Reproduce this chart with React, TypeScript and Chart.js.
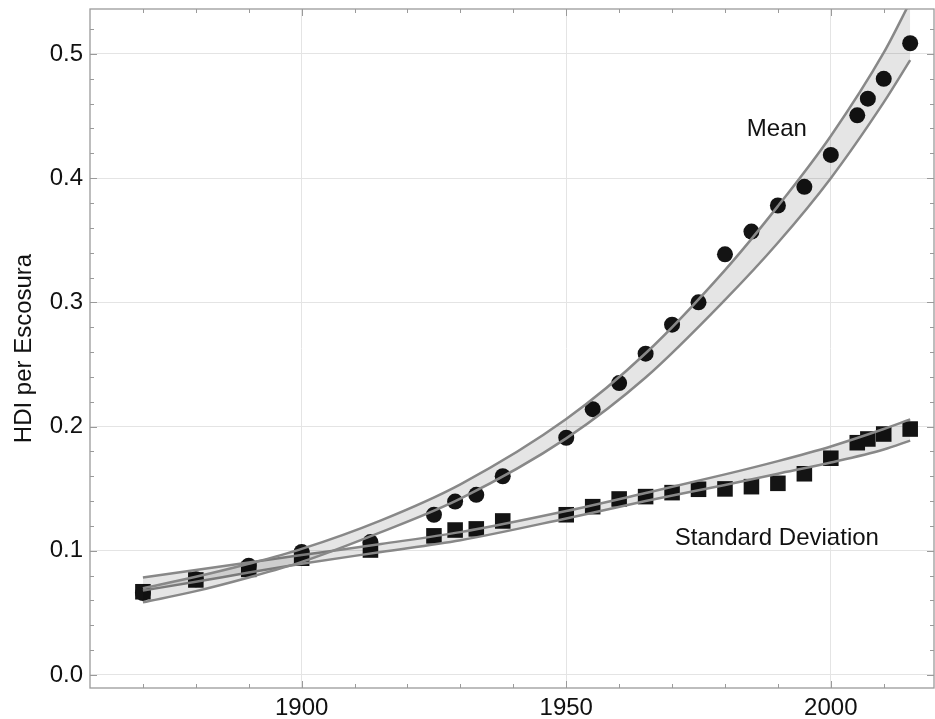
import React, { useEffect, useRef } from 'react';
import { Chart, registerables } from 'chart.js';

Chart.register(...registerables);

// ---- data ----
const years = [1870, 1880, 1890, 1900, 1913, 1925, 1929, 1933, 1938, 1950, 1955, 1960, 1965, 1970, 1975, 1980, 1985, 1990, 1995, 2000, 2005, 2007, 2010, 2015];
const meanValues = [0.066, 0.077, 0.088, 0.099, 0.107, 0.129, 0.1396, 0.145, 0.160, 0.191, 0.214, 0.235, 0.2587, 0.282, 0.300, 0.3387, 0.357, 0.378, 0.393, 0.4187, 0.4506, 0.464, 0.480, 0.5086];
const sdValues = [0.067, 0.0765, 0.085, 0.094, 0.1006, 0.112, 0.1167, 0.1176, 0.124, 0.129, 0.1355, 0.1417, 0.1436, 0.1468, 0.1495, 0.1498, 0.1516, 0.1543, 0.162, 0.1745, 0.187, 0.190, 0.194, 0.198];

const bandYears = [1870, 1880, 1890, 1900, 1915, 1930, 1950, 1965, 1980, 1990, 2000, 2010, 2015];
const meanUpper = [0.0698, 0.0790, 0.0895, 0.1015, 0.1245, 0.1535, 0.2060, 0.2590, 0.3260, 0.3775, 0.4340, 0.5010, 0.5420];
const meanLower = [0.0585, 0.0675, 0.0785, 0.0910, 0.1150, 0.1420, 0.1905, 0.2395, 0.3020, 0.3480, 0.4000, 0.4610, 0.4950];
const sdUpper = [0.0785, 0.0845, 0.0905, 0.0965, 0.1055, 0.1150, 0.1320, 0.1465, 0.1615, 0.1722, 0.1840, 0.1980, 0.2058];
const sdLower = [0.0680, 0.0750, 0.0825, 0.0895, 0.0990, 0.1085, 0.1260, 0.1400, 0.1530, 0.1620, 0.1710, 0.1815, 0.1887];

const xMajorTicks = [1900, 1950, 2000];
const xMinorTicks = [1870, 1880, 1890, 1910, 1920, 1930, 1940, 1960, 1970, 1980, 1990, 2010];
const yMajorTicks = [0, 0.1, 0.2, 0.3, 0.4, 0.5];
const yMinorTicks = [0.02, 0.04, 0.06, 0.08, 0.12, 0.14, 0.16, 0.18, 0.22, 0.24, 0.26, 0.28, 0.32, 0.34, 0.36, 0.38, 0.42, 0.44, 0.46, 0.48, 0.52];

const labelTexts = ['Mean', 'Standard Deviation'];
const labelYears = [1989.8, 1989.8];
const labelValues = [0.4396, 0.1103];

const yTitle = 'HDI per Escosura';

// ---- styles ----
const FONT = '"Liberation Sans", Arial, Helvetica, sans-serif';
const FRAME = '#9a9a9a';
const BAND_LINE = '#888888';
const BAND_FILL = 'rgba(0,0,0,0.10)';
const MARK = '#141414';

const pts = (xs: number[], ys: number[]) => xs.map((x, i) => ({ x, y: ys[i] }));

const framePlugin = {
  id: 'frameTicks',
  afterDraw(chart: any) {
    const { ctx, chartArea: a, scales } = chart;
    const xs = scales.x;
    const ys = scales.y;
    ctx.save();
    ctx.strokeStyle = FRAME;
    ctx.lineWidth = 1.3;
    ctx.strokeRect(a.left, a.top, a.right - a.left, a.bottom - a.top);
    ctx.lineWidth = 1;
    const tickX = (v: number, len: number) => {
      const px = Math.round(xs.getPixelForValue(v)) + 0.5;
      ctx.beginPath();
      ctx.moveTo(px, a.bottom); ctx.lineTo(px, a.bottom - len);
      ctx.moveTo(px, a.top); ctx.lineTo(px, a.top + len);
      ctx.stroke();
    };
    const tickY = (v: number, len: number) => {
      const py = Math.round(ys.getPixelForValue(v)) + 0.5;
      ctx.beginPath();
      ctx.moveTo(a.left, py); ctx.lineTo(a.left + len, py);
      ctx.moveTo(a.right, py); ctx.lineTo(a.right - len, py);
      ctx.stroke();
    };
    xMajorTicks.forEach((v) => tickX(v, 7));
    xMinorTicks.forEach((v) => tickX(v, 4));
    yMajorTicks.forEach((v) => tickY(v, 7));
    yMinorTicks.forEach((v) => tickY(v, 4));

    ctx.fillStyle = '#111';
    ctx.font = `24px ${FONT}`;
    ctx.textAlign = 'center';
    ctx.textBaseline = 'middle';
    labelTexts.forEach((t, i) => {
      ctx.fillText(t, xs.getPixelForValue(labelYears[i]), ys.getPixelForValue(labelValues[i]));
    });
    ctx.restore();
  },
};

const zeroPad = (s: any) => {
  s.paddingLeft = 0;
  s.paddingRight = 0;
  s.paddingTop = 0;
  s.paddingBottom = 0;
};

export default function App() {
  const ref = useRef<HTMLCanvasElement | null>(null);

  useEffect(() => {
    if (!ref.current) return;
    const bandLine = {
      type: 'line' as const,
      borderColor: BAND_LINE,
      borderWidth: 2.5,
      pointRadius: 0,
      cubicInterpolationMode: 'monotone' as const,
      order: 0,
    };
    const chart = new Chart(ref.current, {
      type: 'line',
      data: {
        datasets: [
          { ...bandLine, label: 'Mean upper', data: pts(bandYears, meanUpper), fill: false },
          { ...bandLine, label: 'Mean lower', data: pts(bandYears, meanLower), fill: 0, backgroundColor: BAND_FILL },
          { ...bandLine, label: 'SD upper', data: pts(bandYears, sdUpper), fill: false },
          { ...bandLine, label: 'SD lower', data: pts(bandYears, sdLower), fill: 2, backgroundColor: BAND_FILL },
          {
            label: 'Mean', data: pts(years, meanValues), showLine: false,
            pointStyle: 'circle', pointRadius: 8, pointBackgroundColor: MARK, pointBorderWidth: 0,
            borderColor: MARK, order: 3,
          },
          {
            label: 'Standard Deviation', data: pts(years, sdValues), showLine: false,
            pointStyle: 'rect', pointRadius: 11, pointBackgroundColor: MARK, pointBorderWidth: 0,
            borderColor: MARK, order: 2,
          },
        ],
      },
      options: {
        animation: false,
        responsive: true,
        maintainAspectRatio: false,
        layout: { autoPadding: false, padding: { top: 9, right: 1, left: 0, bottom: 0 } },
        plugins: { legend: { display: false }, tooltip: { enabled: false } },
        scales: {
          x: {
            type: 'linear',
            min: 1860,
            max: 2019.5,
            afterBuildTicks: (s: any) => { s.ticks = xMajorTicks.map((v) => ({ value: v })); },
            afterFit: (s: any) => { s.height = 31; zeroPad(s); },
            grid: { color: '#e4e4e4', lineWidth: 1, drawTicks: false },
            border: { display: false },
            ticks: {
              padding: 6,
              maxRotation: 0,
              color: '#111',
              font: { family: FONT, size: 24 },
              callback: (v: any) => String(v),
            },
          },
          y: {
            type: 'linear',
            min: -0.0105,
            max: 0.5362,
            afterBuildTicks: (s: any) => { s.ticks = yMajorTicks.map((v) => ({ value: v })); },
            afterFit: (s: any) => { s.width = 90; zeroPad(s); },
            grid: { color: '#e4e4e4', lineWidth: 1, drawTicks: false },
            border: { display: false },
            title: {
              display: true,
              text: yTitle,
              color: '#111',
              font: { family: FONT, size: 24 },
              padding: { top: 10, bottom: 0 },
            },
            ticks: {
              padding: 7,
              color: '#111',
              font: { family: FONT, size: 24 },
              callback: (v: any) => Number(v).toFixed(1),
            },
          },
        },
      },
      plugins: [framePlugin],
    });
    return () => chart.destroy();
  }, []);

  return (
    <div style={{ position: 'absolute', left: 0, top: 0, width: 935, height: 719, background: '#fff' }}>
      <canvas ref={ref} />
    </div>
  );
}
